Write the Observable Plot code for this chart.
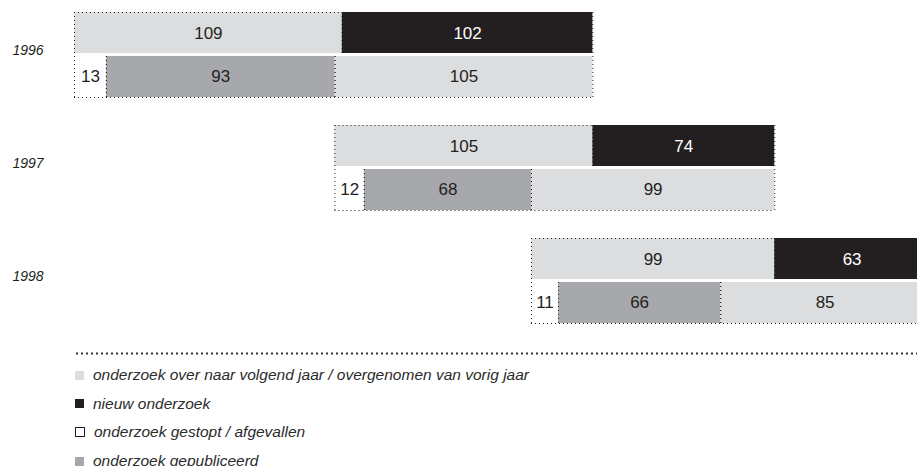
<!DOCTYPE html>
<html>
<head>
<meta charset="utf-8">
<script src="https://cdn.jsdelivr.net/npm/d3@7"></script>
<script src="https://cdn.jsdelivr.net/npm/@observablehq/plot@0.6"></script>
<style>
  html, body { margin: 0; padding: 0; background: #fff; overflow: hidden; }
  body { font-family: "Liberation Sans", Arial, sans-serif; width: 917px; }
  #chart svg { overflow: hidden; display: block; }
  #legend { margin-left: 75px; color: #2b2b2b; font-style: italic; font-size: 15.5px; }
  .rule { margin-top: 12px; margin-bottom: 6px; }
  .item { height: 28.6px; display: flex; align-items: center; }
  .sw { width: 9px; height: 9px; margin-right: 9px; box-sizing: border-box; flex: none; }
</style>
</head>
<body>
<div id="chart"></div>
<div id="legend"></div>
<script>
// ---- data ----
const years = [1996, 1997, 1998];
const carriedIn   = [109, 105, 99];  // overgenomen van vorig jaar
const newResearch = [102, 74, 63];   // nieuw onderzoek
const stopped     = [13, 12, 11];    // onderzoek gestopt / afgevallen
const published   = [93, 68, 66];    // onderzoek gepubliceerd
const carriedOut  = [105, 99, 85];   // onderzoek over naar volgend jaar

const categories = ["over", "nieuw", "gestopt", "gepubliceerd"];
const catColors  = ["#dcdddf", "#231f20", "#ffffff", "#a7a8ab"];
const legendLabels = [
  "onderzoek over naar volgend jaar / overgenomen van vorig jaar",
  "nieuw onderzoek",
  "onderzoek gestopt / afgevallen",
  "onderzoek gepubliceerd"
];

// ---- build segments (cumulative stacking, offset by what left in earlier years) ----
const segs = [];
const groups = [];
let offset = 0;
years.forEach((year, i) => {
  let x = offset;
  [["over", carriedIn[i]], ["nieuw", newResearch[i]]].forEach(([cat, v]) => {
    segs.push({year, row: 0, cat, x1: x, x2: x + v, value: v});
    x += v;
  });
  const end = x;
  x = offset;
  [["gestopt", stopped[i]], ["gepubliceerd", published[i]], ["over", carriedOut[i]]].forEach(([cat, v]) => {
    segs.push({year, row: 1, cat, x1: x, x2: x + v, value: v});
    x += v;
  });
  groups.push({year, start: offset, end});
  offset += stopped[i] + published[i];
});
const total = d3.max(segs, d => d.x2);
const topRow = segs.filter(d => d.row === 0);
const bottomRow = segs.filter(d => d.row === 1);
const edges = segs.flatMap(d => [{...d, x: d.x1}, {...d, x: d.x2}]);
const dots = {stroke: "#231f20", strokeWidth: 1, strokeDasharray: "1 3"};

const chart = Plot.plot({
  width: 917,
  height: 340,
  marginTop: 12,
  marginBottom: 17,
  marginLeft: 74,
  marginRight: 0,
  style: {fontFamily: "Liberation Sans, Arial, sans-serif", background: "#fff", color: "#231f20"},
  x: {domain: [0, total], range: [74, 929], axis: null},
  y: {domain: [0, 2], reverse: true, axis: null},
  fy: {domain: years, paddingInner: 0.248, paddingOuter: 0, round: false, axis: null},
  color: {domain: categories, range: catColors},
  marks: [
    Plot.rect(topRow, {x1: "x1", x2: "x2", y1: d => d.row, y2: d => d.row + 1, fy: "year", fill: "cat", insetBottom: 1.5}),
    Plot.rect(bottomRow, {x1: "x1", x2: "x2", y1: d => d.row, y2: d => d.row + 1, fy: "year", fill: "cat", insetTop: 1.5}),
    Plot.ruleY(groups, {y: 0, x1: "start", x2: "end", fy: "year", ...dots}),
    Plot.ruleY(groups, {y: 2, x1: "start", x2: "end", fy: "year", ...dots}),
    Plot.ruleX(edges.filter(d => d.row === 0), {x: "x", y1: 0, y2: 1, fy: "year", insetBottom: 1.5, ...dots}),
    Plot.ruleX(edges.filter(d => d.row === 1), {x: "x", y1: 1, y2: 2, fy: "year", insetTop: 1.5, ...dots}),
    Plot.text(segs.filter(d => d.cat !== "nieuw"), {x: d => (d.x1 + d.x2) / 2, y: d => d.row + 0.5, fy: "year", text: "value", fill: "#231f20", fontSize: 17}),
    Plot.text(segs.filter(d => d.cat === "nieuw"), {x: d => (d.x1 + d.x2) / 2, y: d => d.row + 0.5, fy: "year", text: "value", fill: "#ffffff", fontSize: 17}),
    Plot.text(years, {fy: d => d, y: 1, frameAnchor: "left", dx: -62, dy: -4, textAnchor: "start", text: d => String(d), fontStyle: "italic", fontSize: 14, fill: "#231f20"})
  ]
});
document.getElementById("chart").appendChild(chart);

// ---- legend ----
const legend = d3.select("#legend");
const rs = legend.append("div").attr("class", "rule").append("svg").attr("width", 842).attr("height", 3).style("display", "block");
rs.append("line").attr("x1", 1).attr("x2", 842).attr("y1", 1.5).attr("y2", 1.5)
  .attr("stroke", "#333").attr("stroke-width", 2).attr("stroke-dasharray", "2 3");
categories.forEach((c, i) => {
  const it = legend.append("div").attr("class", "item");
  it.append("span").attr("class", "sw")
    .style("background", catColors[i])
    .style("border", c === "gestopt" ? "1px solid #231f20" : "none")
    .style("width", c === "gestopt" ? "10px" : "9px")
    .style("height", c === "gestopt" ? "10px" : "9px");
  it.append("span").text(legendLabels[i]);
});
</script>
</body>
</html>
